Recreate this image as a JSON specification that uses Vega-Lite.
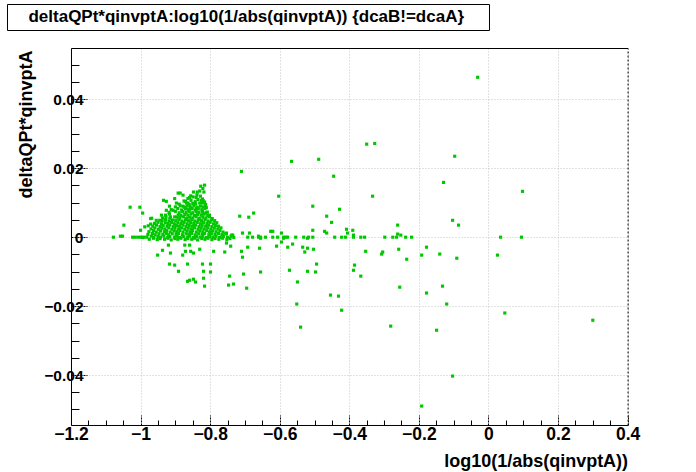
{
  "$schema": "https://vega.github.io/schema/vega-lite/v6.json",
  "padding": {"left": 6, "top": 3, "right": 0, "bottom": 0},
  "background": "white",
  "config": {"font": "Liberation Sans", "view": {"stroke": null}},
  "width": 556.6,
  "height": 377,
  "data": {"values": [
    {"x":-0.350,"y":0.0270},{"x":-0.327,"y":0.0272},{"x":-0.566,"y":0.0220},{"x":-0.488,"y":0.0226},{"x":-0.710,"y":0.0191},{"x":-0.445,"y":0.0177},{"x":-0.603,"y":0.0119},{"x":-0.333,"y":0.0119},{"x":-0.505,"y":0.0090},{"x":-0.689,"y":0.0058},{"x":-0.675,"y":0.0070},{"x":-0.428,"y":0.0081},{"x":-0.465,"y":0.0061},{"x":-0.451,"y":0.0043},{"x":-0.261,"y":0.0035},{"x":-0.707,"y":0.0012},{"x":-0.687,"y":0.0012},{"x":-0.626,"y":0.0017},{"x":-0.620,"y":0.0017},{"x":-0.595,"y":0.0012},{"x":-0.505,"y":0.0020},{"x":-0.471,"y":0.0017},{"x":-0.465,"y":0.0012},{"x":-0.408,"y":0.0023},{"x":-0.390,"y":0.0020},{"x":-0.405,"y":0.0012},{"x":-0.261,"y":0.0009},{"x":-0.252,"y":0.0006},
    {"x":-0.692,"y":0},{"x":-0.678,"y":0},{"x":-0.661,"y":0},{"x":-0.655,"y":0},{"x":-0.641,"y":0},{"x":-0.620,"y":0},{"x":-0.606,"y":0},{"x":-0.589,"y":0},{"x":-0.583,"y":0},{"x":-0.577,"y":0},{"x":-0.554,"y":0},{"x":-0.531,"y":0},{"x":-0.517,"y":0},{"x":-0.505,"y":0},{"x":-0.442,"y":0},{"x":-0.422,"y":0},{"x":-0.411,"y":0},{"x":-0.388,"y":0},{"x":-0.367,"y":0},{"x":-0.356,"y":0},{"x":-0.298,"y":0},{"x":-0.275,"y":0},{"x":-0.264,"y":0},{"x":-0.238,"y":0},{"x":-0.221,"y":0},{"x":0.035,"y":0},{"x":0.095,"y":0},
    {"x":-1.078,"y":0},{"x":-1.023,"y":0},{"x":-1.015,"y":0},{"x":-1.006,"y":0},{"x":-0.998,"y":0},{"x":-0.990,"y":0},{"x":-1.058,"y":0.0003},{"x":-1.052,"y":0.0003},
    {"x":-0.655,"y":-0.0003},{"x":-0.589,"y":-0.0003},{"x":-0.520,"y":-0.0003},{"x":-0.388,"y":0.0006},{"x":-0.595,"y":-0.0014},{"x":-0.563,"y":-0.0020},{"x":-0.609,"y":-0.0026},{"x":-0.692,"y":-0.0029},{"x":-0.658,"y":-0.0032},{"x":-0.577,"y":-0.0029},{"x":-0.534,"y":-0.0029},{"x":-0.520,"y":-0.0032},{"x":-0.503,"y":-0.0035},{"x":-0.528,"y":-0.0043},{"x":-0.710,"y":-0.0041},{"x":-0.353,"y":-0.0041},{"x":-0.258,"y":-0.0035},{"x":-0.178,"y":-0.0029},{"x":-0.304,"y":-0.0043},{"x":-0.307,"y":-0.0049},{"x":-0.707,"y":-0.0058},{"x":-0.192,"y":-0.0052},{"x":-0.140,"y":-0.0049},{"x":-0.235,"y":-0.0064},{"x":-0.494,"y":-0.0078},{"x":-0.385,"y":-0.0081},{"x":-0.388,"y":-0.0096},{"x":-0.572,"y":-0.0096},{"x":-0.520,"y":-0.0099},{"x":-0.497,"y":-0.0101},{"x":-0.655,"y":-0.0101},{"x":-0.704,"y":-0.0107},{"x":-0.367,"y":-0.0113},{"x":-0.549,"y":-0.0130},{"x":-0.695,"y":-0.0148},{"x":-0.255,"y":-0.0145},{"x":-0.178,"y":-0.0162},{"x":-0.454,"y":-0.0168},{"x":-0.431,"y":-0.0171},{"x":-0.551,"y":-0.0194},{"x":-0.422,"y":-0.0212},{"x":-0.540,"y":-0.0261},{"x":-0.281,"y":-0.0258},{"x":-0.149,"y":-0.0270},
    {"x":-0.031,"y":0.0464},{"x":-0.097,"y":0.0235},{"x":-0.129,"y":0.0159},{"x":0.098,"y":0.0133},{"x":-0.103,"y":0.0049},{"x":-0.086,"y":0.0035},{"x":-0.091,"y":-0.0061},{"x":0.026,"y":-0.0052},{"x":-0.132,"y":-0.0142},{"x":-0.120,"y":-0.0194},{"x":0.047,"y":-0.0220},{"x":0.300,"y":-0.0241},{"x":-0.103,"y":-0.0403},{"x":-0.192,"y":-0.0490},
    {"x":-1.030,"y":0.0087},{"x":-1.002,"y":0.0087},{"x":-0.994,"y":0.0070},{"x":-1.048,"y":0.0035},{"x":-1.000,"y":0.0020},{"x":-0.715,"y":0.0061},{"x":-0.753,"y":0.0012},{"x":-0.735,"y":0.0006},{"x":-0.661,"y":0.0003},{"x":-0.753,"y":-0.0017},{"x":-0.741,"y":-0.0026},{"x":-0.790,"y":-0.0041},{"x":-0.758,"y":-0.0043},{"x":-0.937,"y":-0.0038},{"x":-0.920,"y":-0.0023},{"x":-0.914,"y":-0.0046},{"x":-0.951,"y":-0.0052},{"x":-0.873,"y":-0.0023},{"x":-0.859,"y":-0.0023},{"x":-0.871,"y":-0.0041},{"x":-0.856,"y":-0.0041},{"x":-0.848,"y":-0.0046},{"x":-0.830,"y":-0.0035},{"x":-0.879,"y":-0.0052},{"x":-0.917,"y":-0.0078},{"x":-0.902,"y":-0.0081},{"x":-0.865,"y":-0.0078},{"x":-0.822,"y":-0.0078},{"x":-0.799,"y":-0.0078},{"x":-0.891,"y":-0.0099},{"x":-0.819,"y":-0.0099},{"x":-0.799,"y":-0.0101},{"x":-0.744,"y":-0.0113},{"x":-0.819,"y":-0.0119},{"x":-0.865,"y":-0.0128},{"x":-0.859,"y":-0.0125},{"x":-0.848,"y":-0.0122},{"x":-0.842,"y":-0.0130},{"x":-0.816,"y":-0.0142},{"x":-0.747,"y":-0.0139},{"x":-0.733,"y":-0.0136},
    {"x":-0.816,"y":0.0151},{"x":-0.827,"y":0.0148},{"x":-0.821,"y":0.0141},{"x":-0.830,"y":0.0134},{"x":-0.837,"y":0.0131},{"x":-0.818,"y":0.0131},{"x":-0.848,"y":0.0131},{"x":-0.892,"y":0.0128},{"x":-0.886,"y":0.0128},{"x":-0.878,"y":0.0122},{"x":-0.859,"y":0.0115},{"x":-0.849,"y":0.0117},{"x":-0.902,"y":0.0112},{"x":-0.934,"y":0.0107},{"x":-0.926,"y":0.0104},{"x":-0.875,"y":0.0105},{"x":-0.835,"y":0.0109},{"x":-0.825,"y":0.0107},{"x":-0.897,"y":0.0099},{"x":-0.864,"y":0.0099},{"x":-0.845,"y":0.0097},{"x":-0.830,"y":0.0099},{"x":-0.816,"y":0.0102},{"x":-0.917,"y":0.0090},{"x":-0.878,"y":0.0090},{"x":-0.811,"y":0.0086},{"x":-0.854,"y":0.0083},{"x":-0.840,"y":0.0083},{"x":-0.926,"y":0.0078},{"x":-0.907,"y":0.0078},{"x":-0.940,"y":0.0064},{"x":-0.892,"y":0.0064},{"x":-0.802,"y":0.0064},{"x":-0.821,"y":0.0068},{"x":-0.808,"y":0.0073},{"x":-0.971,"y":0.0054},{"x":-0.914,"y":0.0059},{"x":-0.902,"y":0.0059},{"x":-0.794,"y":0.0054},{"x":-0.955,"y":0.0049},{"x":-0.945,"y":0.0049},{"x":-0.988,"y":0.0030},{"x":-0.776,"y":0.0032},{"x":-0.754,"y":0.0010},{"x":-0.765,"y":0.0006},{"x":-0.738,"y":0.0006},{"x":-0.732,"y":-0.0001},{"x":-0.994,"y":-0.0001},{"x":-0.968,"y":0.0055},{"x":-0.978,"y":0.0033},{"x":-0.971,"y":0.0038},
    {"x":-0.975,"y":-0.0006},{"x":-0.963,"y":-0.0003},{"x":-0.952,"y":-0.0007},{"x":-0.944,"y":-0.0004},{"x":-0.931,"y":-0.0006},{"x":-0.921,"y":-0.0003},{"x":-0.912,"y":-0.0008},{"x":-0.901,"y":-0.0004},{"x":-0.893,"y":-0.0006},{"x":-0.884,"y":-0.0003},{"x":-0.872,"y":-0.0007},{"x":-0.864,"y":-0.0004},{"x":-0.853,"y":-0.0006},{"x":-0.845,"y":-0.0003},{"x":-0.836,"y":-0.0008},{"x":-0.824,"y":-0.0004},{"x":-0.815,"y":-0.0006},{"x":-0.806,"y":-0.0003},{"x":-0.795,"y":-0.0007},{"x":-0.786,"y":-0.0004},{"x":-0.775,"y":-0.0006},{"x":-0.764,"y":-0.0003},{"x":-0.752,"y":-0.0007},{"x":-0.743,"y":-0.0004},
    {"x":-0.982,"y":0},{"x":-0.969,"y":0.0003},{"x":-0.962,"y":-0.0001},{"x":-0.950,"y":0.0002},{"x":-0.943,"y":0},{"x":-0.933,"y":0.0003},{"x":-0.922,"y":-0.0001},{"x":-0.916,"y":0.0002},{"x":-0.903,"y":0},{"x":-0.895,"y":0.0003},{"x":-0.888,"y":-0.0001},{"x":-0.877,"y":0.0002},{"x":-0.866,"y":0},{"x":-0.859,"y":0.0003},{"x":-0.848,"y":-0.0001},{"x":-0.839,"y":0.0002},{"x":-0.829,"y":0},{"x":-0.821,"y":0.0003},{"x":-0.811,"y":-0.0001},{"x":-0.801,"y":0.0002},{"x":-0.792,"y":0},{"x":-0.783,"y":0.0003},{"x":-0.773,"y":-0.0001},{"x":-0.762,"y":0.0002},{"x":-0.750,"y":0},{"x":-0.740,"y":0.0003},
    {"x":-0.979,"y":0.0008},{"x":-0.966,"y":0.0011},{"x":-0.958,"y":0.0007},{"x":-0.947,"y":0.0010},{"x":-0.936,"y":0.0008},{"x":-0.926,"y":0.0011},{"x":-0.920,"y":0.0007},{"x":-0.909,"y":0.0010},{"x":-0.898,"y":0.0008},{"x":-0.891,"y":0.0011},{"x":-0.880,"y":0.0007},{"x":-0.869,"y":0.0010},{"x":-0.861,"y":0.0008},{"x":-0.853,"y":0.0011},{"x":-0.843,"y":0.0007},{"x":-0.833,"y":0.0010},{"x":-0.823,"y":0.0008},{"x":-0.816,"y":0.0011},{"x":-0.804,"y":0.0007},{"x":-0.796,"y":0.0010},{"x":-0.786,"y":0.0008},{"x":-0.776,"y":0.0011},{"x":-0.766,"y":0.0007},{"x":-0.755,"y":0.0010},
    {"x":-0.976,"y":0.0016},{"x":-0.963,"y":0.0019},{"x":-0.955,"y":0.0015},{"x":-0.943,"y":0.0018},{"x":-0.932,"y":0.0016},{"x":-0.925,"y":0.0019},{"x":-0.915,"y":0.0015},{"x":-0.904,"y":0.0018},{"x":-0.896,"y":0.0016},{"x":-0.887,"y":0.0019},{"x":-0.878,"y":0.0015},{"x":-0.867,"y":0.0018},{"x":-0.858,"y":0.0016},{"x":-0.851,"y":0.0019},{"x":-0.840,"y":0.0015},{"x":-0.830,"y":0.0018},{"x":-0.821,"y":0.0016},{"x":-0.810,"y":0.0019},{"x":-0.802,"y":0.0015},{"x":-0.793,"y":0.0018},{"x":-0.783,"y":0.0016},{"x":-0.772,"y":0.0019},{"x":-0.763,"y":0.0015},
    {"x":-0.970,"y":0.0024},{"x":-0.959,"y":0.0027},{"x":-0.949,"y":0.0023},{"x":-0.939,"y":0.0026},{"x":-0.930,"y":0.0024},{"x":-0.919,"y":0.0027},{"x":-0.910,"y":0.0023},{"x":-0.901,"y":0.0026},{"x":-0.891,"y":0.0024},{"x":-0.882,"y":0.0027},{"x":-0.873,"y":0.0023},{"x":-0.863,"y":0.0026},{"x":-0.854,"y":0.0024},{"x":-0.845,"y":0.0027},{"x":-0.835,"y":0.0023},{"x":-0.826,"y":0.0026},{"x":-0.817,"y":0.0024},{"x":-0.807,"y":0.0027},{"x":-0.798,"y":0.0023},{"x":-0.788,"y":0.0026},{"x":-0.778,"y":0.0024},{"x":-0.769,"y":0.0027},
    {"x":-0.965,"y":0.0032},{"x":-0.954,"y":0.0035},{"x":-0.944,"y":0.0031},{"x":-0.935,"y":0.0034},{"x":-0.924,"y":0.0032},{"x":-0.916,"y":0.0035},{"x":-0.906,"y":0.0031},{"x":-0.897,"y":0.0034},{"x":-0.888,"y":0.0032},{"x":-0.878,"y":0.0035},{"x":-0.869,"y":0.0031},{"x":-0.860,"y":0.0034},{"x":-0.851,"y":0.0032},{"x":-0.842,"y":0.0035},{"x":-0.832,"y":0.0031},{"x":-0.823,"y":0.0034},{"x":-0.813,"y":0.0032},{"x":-0.805,"y":0.0035},{"x":-0.795,"y":0.0031},{"x":-0.785,"y":0.0034},
    {"x":-0.960,"y":0.0040},{"x":-0.950,"y":0.0043},{"x":-0.940,"y":0.0039},{"x":-0.929,"y":0.0042},{"x":-0.921,"y":0.0040},{"x":-0.911,"y":0.0043},{"x":-0.903,"y":0.0039},{"x":-0.893,"y":0.0042},{"x":-0.884,"y":0.0040},{"x":-0.875,"y":0.0043},{"x":-0.866,"y":0.0039},{"x":-0.856,"y":0.0042},{"x":-0.847,"y":0.0040},{"x":-0.837,"y":0.0043},{"x":-0.828,"y":0.0039},{"x":-0.819,"y":0.0042},{"x":-0.809,"y":0.0040},{"x":-0.800,"y":0.0043},{"x":-0.790,"y":0.0039},{"x":-0.781,"y":0.0042},
    {"x":-0.938,"y":0.0048},{"x":-0.928,"y":0.0051},{"x":-0.918,"y":0.0047},{"x":-0.908,"y":0.0050},{"x":-0.899,"y":0.0048},{"x":-0.890,"y":0.0051},{"x":-0.881,"y":0.0047},{"x":-0.871,"y":0.0050},{"x":-0.862,"y":0.0048},{"x":-0.853,"y":0.0051},{"x":-0.844,"y":0.0047},{"x":-0.834,"y":0.0050},{"x":-0.825,"y":0.0048},{"x":-0.815,"y":0.0051},{"x":-0.806,"y":0.0047},{"x":-0.796,"y":0.0050},{"x":-0.787,"y":0.0048},
    {"x":-0.937,"y":0.0056},{"x":-0.927,"y":0.0059},{"x":-0.916,"y":0.0055},{"x":-0.895,"y":0.0058},{"x":-0.887,"y":0.0056},{"x":-0.877,"y":0.0059},{"x":-0.868,"y":0.0055},{"x":-0.859,"y":0.0058},{"x":-0.850,"y":0.0056},{"x":-0.840,"y":0.0059},{"x":-0.831,"y":0.0055},{"x":-0.821,"y":0.0058},{"x":-0.812,"y":0.0056},{"x":-0.802,"y":0.0059},
    {"x":-0.928,"y":0.0064},{"x":-0.917,"y":0.0067},{"x":-0.884,"y":0.0063},{"x":-0.873,"y":0.0066},{"x":-0.864,"y":0.0064},{"x":-0.855,"y":0.0067},{"x":-0.845,"y":0.0063},{"x":-0.836,"y":0.0066},{"x":-0.826,"y":0.0064},{"x":-0.817,"y":0.0067},{"x":-0.807,"y":0.0063},
    {"x":-0.918,"y":0.0072},{"x":-0.900,"y":0.0075},{"x":-0.889,"y":0.0071},{"x":-0.879,"y":0.0074},{"x":-0.869,"y":0.0072},{"x":-0.860,"y":0.0075},{"x":-0.850,"y":0.0071},{"x":-0.840,"y":0.0074},{"x":-0.832,"y":0.0072},{"x":-0.822,"y":0.0075},{"x":-0.812,"y":0.0071},
    {"x":-0.912,"y":0.0080},{"x":-0.893,"y":0.0083},{"x":-0.882,"y":0.0079},{"x":-0.871,"y":0.0082},{"x":-0.862,"y":0.0080},{"x":-0.852,"y":0.0083},{"x":-0.843,"y":0.0079},{"x":-0.834,"y":0.0082},{"x":-0.824,"y":0.0080},{"x":-0.815,"y":0.0083},
    {"x":-0.900,"y":0.0088},{"x":-0.886,"y":0.0091},{"x":-0.874,"y":0.0087},{"x":-0.866,"y":0.0090},{"x":-0.857,"y":0.0088},{"x":-0.847,"y":0.0091},{"x":-0.837,"y":0.0087},{"x":-0.828,"y":0.0090},{"x":-0.819,"y":0.0088},
    {"x":-0.889,"y":0.0096},{"x":-0.868,"y":0.0099},{"x":-0.860,"y":0.0095},{"x":-0.850,"y":0.0098},{"x":-0.842,"y":0.0096},{"x":-0.822,"y":0.0099},{"x":-0.813,"y":0.0095},
    {"x":-0.871,"y":0.0104},{"x":-0.855,"y":0.0107},{"x":-0.843,"y":0.0103},{"x":-0.820,"y":0.0106},
    {"x":-0.864,"y":0.0112},{"x":-0.840,"y":0.0115},{"x":-0.822,"y":0.0111},
    {"x":-0.856,"y":0.0120},{"x":-0.838,"y":0.0123},{"x":-0.828,"y":0.0119}
  ]},
  "resolve": {"axis": {"x": "independent", "y": "independent"}},
  "layer": [
    {
      "mark": {"type": "square", "size": 10, "color": "#00c800", "opacity": 1, "filled": true},
      "encoding": {
        "x": {"field": "x", "type": "quantitative",
          "scale": {"domain": [-1.2, 0.4], "nice": false, "zero": false},
          "axis": {"orient": "bottom", "values": [-1.2, -1, -0.8, -0.6, -0.4, -0.2, 0, 0.2, 0.4], "format": "~g",
            "labelFlush": false, "labelOverlap": false, "labelBound": false,
            "labelFont": "Liberation Sans", "labelFontWeight": "bold", "labelFontSize": 17.5, "labelColor": "black", "labelPadding": 11,
            "domainColor": "black", "domainWidth": 1,
            "tickColor": "black", "tickSize": -10, "tickWidth": 1, "tickDash": [2, 1],
            "grid": true, "gridColor": "#c4c4c4", "gridDash": [1, 2], "gridWidth": 1,
            "title": "log10(1/abs(qinvptA))", "titleFont": "Liberation Sans", "titleFontWeight": "bold", "titleFontSize": 18, "titleColor": "black",
            "titleAnchor": "end", "titleAlign": "right", "titleBaseline": "alphabetic", "titleY": 42}},
        "y": {"field": "y", "type": "quantitative",
          "scale": {"domain": [-0.0545, 0.0549], "nice": false, "zero": false},
          "axis": {"orient": "left", "values": [-0.04, -0.02, 0, 0.02, 0.04], "format": "~g",
            "labelFlush": false, "labelOverlap": false, "labelBound": false,
            "labelFont": "Liberation Sans", "labelFontWeight": "bold", "labelFontSize": 15.5, "labelColor": "black", "labelPadding": 4,
            "domainColor": "black", "domainWidth": 1,
            "tickColor": "black", "tickSize": -16, "tickWidth": 1, "tickDash": [2, 1],
            "grid": true, "gridColor": "#c4c4c4", "gridDash": [1, 2], "gridWidth": 1,
            "title": "deltaQPt*qinvptA", "titleFont": "Liberation Sans", "titleFontWeight": "bold", "titleFontSize": 18, "titleColor": "black",
            "titleAnchor": "end", "titleAlign": "right", "titleBaseline": "alphabetic", "titleAngle": 270, "titleX": -39, "titleY": 2}}
      }
    },
    {
      "mark": {"type": "square", "size": 10, "opacity": 0},
      "encoding": {
        "x": {"field": "x", "type": "quantitative",
          "scale": {"domain": [-1.2, 0.4], "nice": false, "zero": false},
          "axis": {"orient": "bottom", "values": [-1.15, -1.1, -1.05, -0.95, -0.9, -0.85, -0.75, -0.7, -0.65, -0.55, -0.5, -0.45, -0.35, -0.3, -0.25, -0.15, -0.1, -0.05, 0.05, 0.1, 0.15, 0.25, 0.3, 0.35],
            "labels": false, "domain": false, "grid": false, "title": null,
            "tickColor": "black", "tickSize": -5, "tickWidth": 1}},
        "y": {"field": "y", "type": "quantitative",
          "scale": {"domain": [-0.0545, 0.0549], "nice": false, "zero": false},
          "axis": {"orient": "left", "values": [-0.05, -0.045, -0.035, -0.03, -0.025, -0.015, -0.01, -0.005, 0.005, 0.01, 0.015, 0.025, 0.03, 0.035, 0.045, 0.05],
            "labels": false, "domain": false, "grid": false, "title": null,
            "tickColor": "black", "tickSize": -8, "tickWidth": 1}}
      }
    },
    {
      "mark": {"type": "square", "size": 10, "opacity": 0},
      "encoding": {
        "x": {"field": "x", "type": "quantitative",
          "scale": {"domain": [-1.2, 0.4], "nice": false, "zero": false},
          "axis": {"orient": "top", "labels": false, "ticks": false, "grid": false, "title": null, "domainColor": "black", "domainWidth": 1}},
        "y": {"field": "y", "type": "quantitative",
          "scale": {"domain": [-0.0545, 0.0549], "nice": false, "zero": false},
          "axis": {"orient": "right", "labels": false, "ticks": false, "grid": false, "title": null, "domainColor": "black", "domainWidth": 1, "domainDash": [2, 2]}}
      }
    },
    {
      "data": {"values": [{"t": "\u00a0\u00a0\u00a0\u00a0\u00a0deltaQPt*qinvptA:log10(1/abs(qinvptA)) {dcaB!=dcaA}"}]},
      "mark": {"type": "square", "size": 1, "opacity": 0},
      "encoding": {
        "color": {"field": "t", "type": "nominal",
          "scale": {"range": ["white"]},
          "legend": {"orient": "none", "legendX": -64, "legendY": -44, "title": ".",
            "titleOrient": "right", "titleColor": "white", "titleFontSize": 10, "titlePadding": 17,
            "strokeColor": "black", "fillColor": "white", "cornerRadius": 0, "padding": 4.5,
            "symbolSize": 0, "symbolOpacity": 0, "symbolStrokeWidth": 0, "labelOffset": 0,
            "labelFont": "Liberation Sans", "labelFontWeight": "bold", "labelFontSize": 17, "labelColor": "black", "labelLimit": 1000, "labelBaseline": "middle"}}
      }
    }
  ]
}
